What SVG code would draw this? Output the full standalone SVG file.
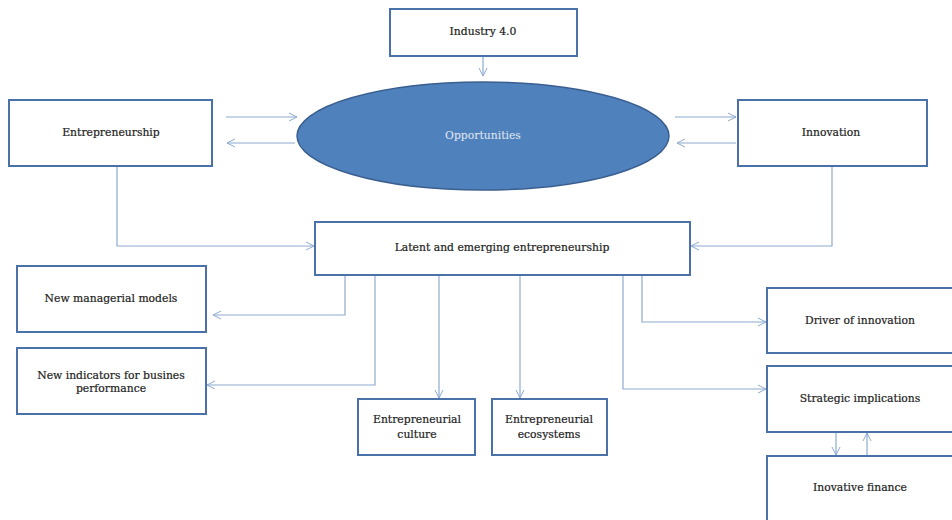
<svg xmlns="http://www.w3.org/2000/svg" width="952" height="520" viewBox="0 0 952 520">
<defs>
<marker id="ah" markerWidth="10" markerHeight="10" refX="9" refY="5" orient="auto" markerUnits="userSpaceOnUse">
<path d="M1,1 L9,5 L1,9" fill="none" stroke="#8eaad0" stroke-width="1"/>
</marker>
<style>
.box{fill:#fff;stroke:#4a72a8;stroke-width:2}
.t{font-family:"DejaVu Serif","Liberation Serif",serif;font-size:10.8px;fill:#222;stroke:#222;stroke-width:0.2;text-anchor:middle}
.c{fill:none;stroke:#8eaad0;stroke-width:1.2;marker-end:url(#ah)}
</style>
</defs>
<rect width="952" height="520" fill="#fff"/>
<g id="connectors">
<path class="c" d="M483,57 V76"/>
<path class="c" d="M226,117 H297"/>
<path class="c" d="M295,143 H227"/>
<path class="c" d="M675,117 H736"/>
<path class="c" d="M736,143 H677"/>
<path class="c" d="M117,166 V246 H314"/>
<path class="c" d="M832,166 V246 H691"/>
<path class="c" d="M345,276 V315 H213"/>
<path class="c" d="M375,276 V385 H207"/>
<path class="c" d="M439,276 V398"/>
<path class="c" d="M520,276 V398"/>
<path class="c" d="M642,276 V322 H766"/>
<path class="c" d="M623,276 V389 H766"/>
<path class="c" d="M836,433 V455"/>
<path class="c" d="M867,456 V433"/>
</g>
<g id="industry"><rect class="box" x="390" y="9" width="187" height="47"/><text class="t" x="483" y="35">Industry 4.0</text></g>
<g id="opportunities"><ellipse cx="483" cy="136" rx="186" ry="54" fill="#4f81bd" stroke="#3a5f8f" stroke-width="1.5"/><text class="t" x="483" y="139" style="fill:#e2eaf3;stroke:none">Opportunities</text></g>
<g id="entrepreneurship"><rect class="box" x="9" y="100" width="203" height="66"/><text class="t" x="111" y="136">Entrepreneurship</text></g>
<g id="innovation"><rect class="box" x="738" y="100" width="189" height="66"/><text class="t" x="831" y="136">Innovation</text></g>
<g id="latent"><rect class="box" x="315" y="222" width="375" height="53"/><text class="t" x="502" y="251">Latent and emerging entrepreneurship</text></g>
<g id="managerial"><rect class="box" x="17" y="266" width="189" height="66"/><text class="t" x="111" y="302">New managerial models</text></g>
<g id="indicators"><rect class="box" x="17" y="348" width="189" height="66"/><text class="t" x="111" y="379">New indicators for busines</text><text class="t" x="111" y="392">performance</text></g>
<g id="culture"><rect class="box" x="358" y="399" width="117" height="56"/><text class="t" x="417" y="423">Entrepreneurial</text><text class="t" x="417" y="438">culture</text></g>
<g id="ecosystems"><rect class="box" x="492" y="399" width="115" height="56"/><text class="t" x="549" y="423">Entrepreneurial</text><text class="t" x="549" y="438">ecosystems</text></g>
<g id="driver"><rect class="box" x="767" y="288" width="190" height="65"/><text class="t" x="860" y="324">Driver of innovation</text></g>
<g id="strategic"><rect class="box" x="767" y="366" width="190" height="66"/><text class="t" x="860" y="402">Strategic implications</text></g>
<g id="finance"><rect class="box" x="767" y="456" width="190" height="70"/><text class="t" x="860" y="491">Inovative finance</text></g>
</svg>
